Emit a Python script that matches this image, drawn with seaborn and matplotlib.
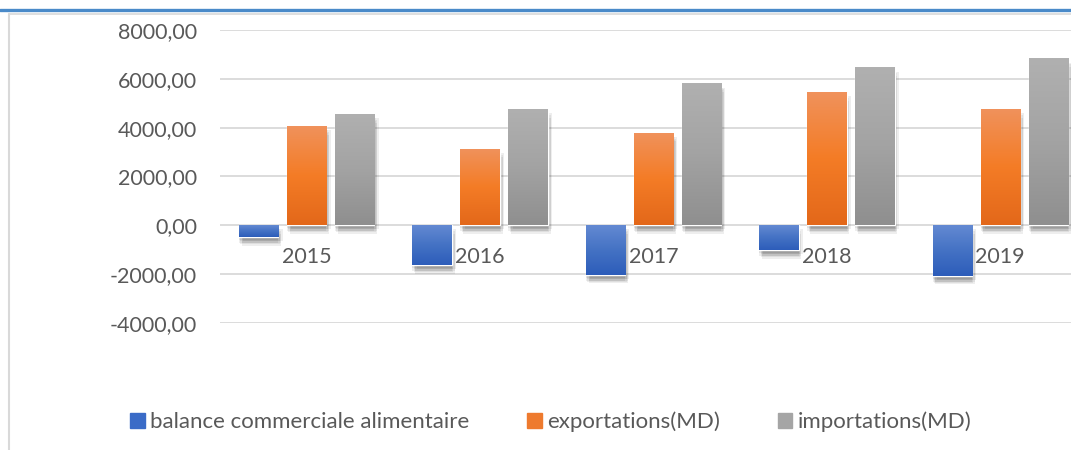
import numpy as np
import pandas as pd
import matplotlib.pyplot as plt
import matplotlib.patheffects as pe
from matplotlib.colors import LinearSegmentedColormap
from matplotlib.lines import Line2D
import seaborn as sns

# Data (MD)
years = ['2015', '2016', '2017', '2018', '2019']
series = ['balance commerciale alimentaire', 'exportations(MD)', 'importations(MD)']
balance = [-490, -1635, -2040, -1020, -2080]
exports = [4060, 3120, 3775, 5450, 4755]
imports = [4550, 4755, 5815, 6470, 6835]

df = pd.DataFrame({
    'annee': years * 3,
    'serie': [series[0]] * 5 + [series[1]] * 5 + [series[2]] * 5,
    'valeur': balance + exports + imports,
})

colors = ['#3A6BC7', '#EE7A2E', '#A5A5A5']
grads = [['#6389D2', '#4472C4', '#2D5DBA'],
         ['#F0925C', '#F47C26', '#E3681A'],
         ['#B0B0B0', '#A3A3A3', '#8F8F8F']]
txt_col = '#595959'

sns.set_style('white')
plt.rcParams['font.family'] = ['Lato', 'DejaVu Sans']

fig = plt.figure(figsize=(10.71, 4.5), dpi=100)
ax = fig.add_axes([220 / 1071, 1 - 323 / 450, 867 / 1071, 293 / 450])

sns.barplot(data=df, x='annee', y='valeur', hue='serie', hue_order=series,
            palette=colors, width=0.83, gap=0.18, ax=ax, legend=False,
            saturation=1, errorbar=None)

# soft shadow: several faint offset copies
shadow = [pe.SimplePatchShadow(offset=o, shadow_rgbFace='k', alpha=0.065)
          for o in [(0, -2), (1, -3), (2, -4), (1, -5), (3, -3), (0, -4), (2, -6)]]

# gradient fill + shadow on each bar
for i, patch in enumerate(ax.patches):
    k = i // len(years)
    x0, y0 = patch.get_x(), patch.get_y()
    w, h = patch.get_width(), patch.get_height()
    patch.set_path_effects(shadow + [pe.Normal()])
    cmap = LinearSegmentedColormap.from_list('g', grads[k])
    grad = np.linspace(0, 1, 100).reshape(-1, 1)
    top, bot = max(y0, y0 + h), min(y0, y0 + h)
    im = ax.imshow(grad, cmap=cmap, extent=[x0, x0 + w, bot, top], origin='upper',
                   aspect='auto', zorder=2.5)
    im.set_clip_path(patch)

ax.set_xlim(-0.5, 4.5)
ax.set_ylim(-4000, 8000)
ax.set_yticks(range(-4000, 8001, 2000))
ax.set_yticklabels([f"{v:.2f}".replace('.', ',') for v in range(-4000, 8001, 2000)])
ax.set_axisbelow(True)
ax.grid(axis='y', color='#D9D9D9', lw=1.3)
ax.grid(axis='x', visible=False)
for s in ax.spines.values():
    s.set_visible(False)
ax.spines['bottom'].set_position(('data', 0))
ax.tick_params(axis='y', length=0, pad=16.5, labelsize=15.5, labelcolor=txt_col)
ax.tick_params(axis='x', length=0, pad=15.5, labelsize=15.5, labelcolor=txt_col)
ax.set_xlabel('')
ax.set_ylabel('')

# legend
handles = [plt.Rectangle((0, 0), 1, 1, color=c) for c in colors]
fig.legend(handles, series, loc='center', bbox_to_anchor=(551 / 1071, 1 - 422 / 450),
           ncol=3, frameon=False, fontsize=16, labelcolor=txt_col,
           handlelength=0.65, handleheight=0.65, handletextpad=0.25, columnspacing=2.6)

# frame lines
fig.add_artist(Line2D([0, 1], [1 - 10 / 450] * 2, color='#4A8AC9', lw=2.4))
fig.add_artist(Line2D([9 / 1071, 1], [1 - 14 / 450] * 2, color='#D9D9D9', lw=1.2))
fig.add_artist(Line2D([9 / 1071] * 2, [0, 1 - 14 / 450], color='#D9D9D9', lw=1.5))

fig.savefig('out.png', dpi=100)
